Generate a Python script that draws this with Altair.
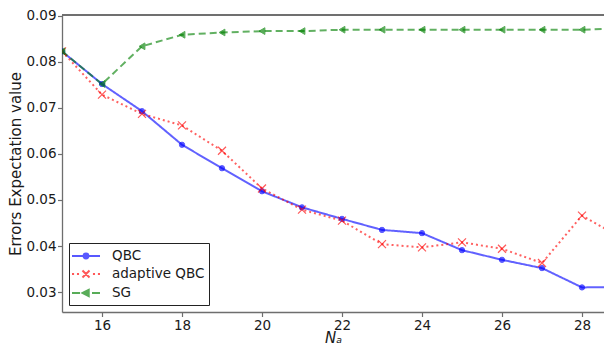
import altair as alt
import pandas as pd

# ---------------- data ----------------
n_a = [15, 16, 17, 18, 19, 20, 21, 22, 23, 24, 25, 26, 27, 28, 29]
qbc = [0.0823, 0.0752, 0.0693, 0.0620, 0.0569, 0.0519, 0.0484, 0.0459, 0.0435,
       0.0428, 0.0391, 0.0370, 0.0352, 0.0310, 0.0311]
adaptive_qbc = [0.0823, 0.0729, 0.0687, 0.0662, 0.0607, 0.0525, 0.0479, 0.0455,
                0.0404, 0.0397, 0.0408, 0.0394, 0.0363, 0.0466, 0.0417]
sg = [0.0823, 0.0752, 0.0834, 0.0859, 0.0864, 0.0867, 0.0867, 0.0870, 0.0870,
      0.0870, 0.0870, 0.0870, 0.0870, 0.0870, 0.0873]
series_names = ["QBC", "adaptive QBC", "SG"]
x_ticks = [16, 18, 20, 22, 24, 26, 28]
y_ticks = [0.03, 0.04, 0.05, 0.06, 0.07, 0.08, 0.09]

rows = []
for name, vals in zip(series_names, [qbc, adaptive_qbc, sg]):
    for xv, yv in zip(n_a, vals):
        rows.append({"x": xv, "y": yv, "series": name})
df = pd.DataFrame(rows)

# ---------------- styles ----------------
colors = ["#0000ff", "#ff0000", "#008000"]
dashes = [[1, 0], [2, 3], [7, 4]]
marker_shapes = ["circle", "M-1,-1L1,1M-1,1L1,-1", "triangle-left"]
marker_sizes = [28, 64, 45]
marker_filled = [True, False, True]
FONT = "DejaVu Sans"
SPINE = "#6e6e6e"
TXT = "#1a1a1a"
TICK_FS = 13.5
TITLE_FS = 15
PX_PER_UNIT = 40
PLOT_W = 542
PLOT_H = 297
X_DOMAIN = [15, 15 + PLOT_W / PX_PER_UNIT]
Y_DOMAIN = [0.02566, 0.0902]


def segs(ranges):
    return "".join(f"M{a:.3f},0H{b:.3f}" for a, b in ranges)


# legend symbols (unit = 8 px for symbolSize 256)
L = 1.75
circle_path = "M-0.3,0A0.3,0.3,0,1,0,0.3,0A0.3,0.3,0,1,0,-0.3,0Z"
xmark_path = "M-0.44,-0.44L0.44,0.44M-0.44,0.44L0.44,-0.44"
tri_path = "M-0.42,0L0.34,-0.38L0.34,0.38Z"
dot_centres = [-1.62, -1.0, 1.0, 1.62]
legend_shapes = [
    segs([(-L, L)]) + circle_path,
    segs([(d - 0.13, d + 0.13) for d in dot_centres]) + xmark_path,
    segs([(-L, -0.75), (-0.3, 0.3), (0.75, L)]) + tri_path,
]

color_scale = alt.Scale(domain=series_names, range=colors)
x_scale = alt.Scale(domain=X_DOMAIN, nice=False, zero=False)
y_scale = alt.Scale(domain=Y_DOMAIN, nice=False, zero=False)

x_axis = alt.Axis(values=x_ticks, title="Nₐ", titleFontStyle="italic",
                  titleFontWeight="normal", titleFontSize=TITLE_FS, titleFont=FONT,
                  titleColor=TXT, titlePadding=-1,
                  labelFont=FONT, labelFontSize=TICK_FS, labelColor=TXT,
                  labelPadding=1.5, tickSize=4.5, tickColor=SPINE, tickWidth=1.2,
                  domainColor=SPINE, domainWidth=1.3, grid=False)
y_axis = alt.Axis(values=y_ticks, format=".2f", title="Errors Expectation value",
                  titleFontWeight="normal", titleFontSize=TITLE_FS, titleFont=FONT,
                  titleColor=TXT, titleX=-39,
                  labelFont=FONT, labelFontSize=TICK_FS, labelColor=TXT,
                  labelPadding=1.5, tickSize=4.5, tickColor=SPINE, tickWidth=1.2,
                  domainColor=SPINE, domainWidth=1.3, grid=False)
x_enc = alt.X("x:Q", scale=x_scale, axis=x_axis)
y_enc = alt.Y("y:Q", scale=y_scale, axis=y_axis)

layers = []
for i, name in enumerate(series_names):
    layers.append(
        alt.Chart(df).transform_filter(alt.datum.series == name).mark_line(
            clip=True, strokeWidth=2, opacity=0.62, color=colors[i],
            strokeDash=dashes[i]).encode(x=x_enc, y=y_enc, order="x:Q"))
for i, name in enumerate(series_names):
    kw = dict(clip=True, filled=marker_filled[i], shape=marker_shapes[i],
              size=marker_sizes[i], color=colors[i], opacity=0.65)
    if marker_filled[i]:
        kw.update(stroke=colors[i], strokeWidth=1)
    else:
        kw.update(strokeWidth=1.2)
    layers.append(
        alt.Chart(df).transform_filter(alt.datum.series == name).mark_point(**kw)
        .encode(x=x_enc, y=y_enc))

leg_kw = dict(orient="bottom-left", offset=7, title=None,
              labelFont=FONT, labelFontSize=TICK_FS, labelColor=TXT,
              symbolSize=256, symbolStrokeWidth=2, symbolOffset=4, labelOffset=17,
              padding=4, rowPadding=2, strokeColor="#222222", fillColor="white",
              cornerRadius=0, symbolOpacity=0.65)

legend_df = pd.DataFrame({"x": [0, 0, 0], "y": [0, 0, 0], "series": series_names})
legend_layer = alt.Chart(legend_df).mark_point(clip=True, filled=True).encode(
    x=x_enc,
    y=y_enc,
    color=alt.Color("series:N", scale=color_scale, legend=alt.Legend(**leg_kw)),
    stroke=alt.Stroke("series:N", scale=color_scale, legend=alt.Legend(**leg_kw)),
    shape=alt.Shape("series:N", scale=alt.Scale(domain=series_names, range=legend_shapes),
                    legend=alt.Legend(**leg_kw)),
)
layers.append(legend_layer)

# top spine of the frame
top_spine = alt.Chart(legend_df).mark_rule(color=SPINE, strokeWidth=1.3).encode(
    y=alt.Y(datum=Y_DOMAIN[1], type="quantitative", scale=y_scale, axis=y_axis))
layers.append(top_spine)

chart = alt.layer(*layers).properties(
    width=PLOT_W, height=PLOT_H,
    padding={"left": 54, "top": 7, "right": 0, "bottom": 40},
    autosize=alt.AutoSizeParams(type="none"),
    background="white",
).configure_view(stroke=None)

chart.save("out.html", embed_options={"renderer": "svg", "actions": False})
